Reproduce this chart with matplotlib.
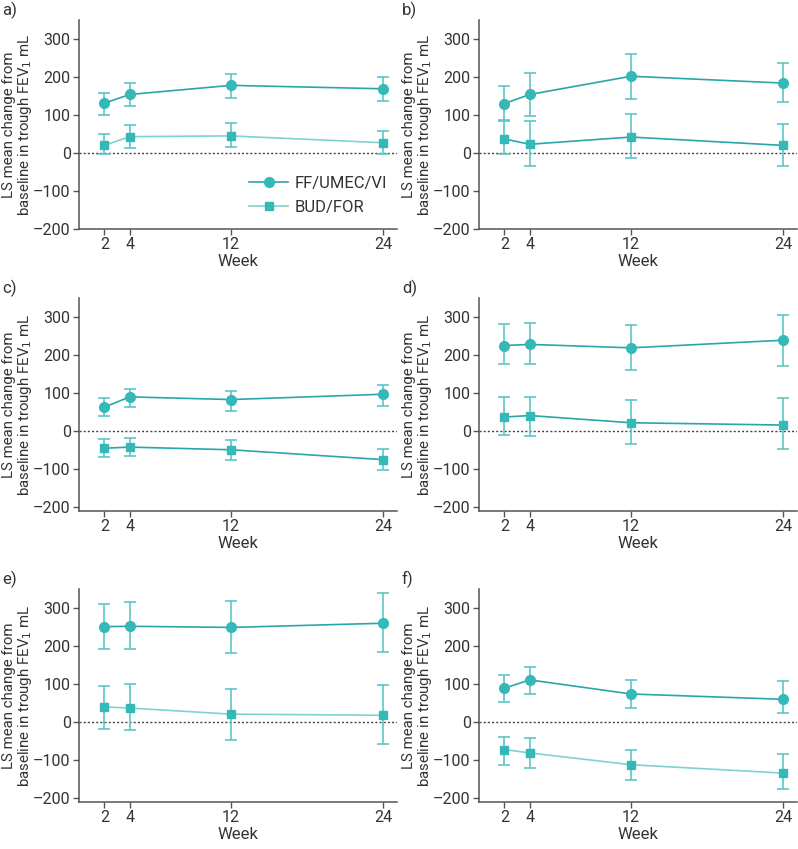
import matplotlib
matplotlib.use("Agg")
import matplotlib.pyplot as plt
import numpy as np

plt.rcParams['font.family'] = ['Roboto', 'DejaVu Sans']

weeks = [2, 4, 12, 24]
week_labels = ["2", "4", "12", "24"]
panel_labels = ["a)", "b)", "c)", "d)", "e)", "f)"]
series_names = ["FF/UMEC/VI", "BUD/FOR"]

# FF/UMEC/VI: mean, upper CI, lower CI per panel
ff_mean = [[131, 154, 178, 169], [130, 154, 202, 184], [63, 90, 83, 97],
           [225, 228, 219, 239], [251, 252, 249, 260], [89, 111, 74, 60]]
ff_hi = [[157, 184, 207, 199], [175, 210, 260, 237], [86, 112, 105, 120],
         [281, 285, 279, 305], [310, 316, 319, 340], [125, 146, 112, 108]]
ff_lo = [[101, 123, 145, 137], [88, 97, 142, 134], [41, 64, 53, 67],
         [177, 177, 161, 172], [192, 192, 183, 185], [54, 75, 38, 24]]

# BUD/FOR: mean, upper CI, lower CI per panel
bud_mean = [[20, 43, 45, 27], [37, 23, 42, 20], [-45, -42, -49, -75],
            [37, 41, 22, 16], [40, 37, 21, 18], [-72, -81, -112, -134]]
bud_hi = [[49, 73, 78, 57], [85, 83, 102, 75], [-20, -18, -23, -48],
          [90, 90, 83, 86], [94, 99, 88, 98], [-40, -42, -73, -84]]
bud_lo = [[-3, 12, 16, -3], [-3, -33, -14, -33], [-68, -66, -75, -101],
          [-11, -12, -35, -47], [-17, -22, -46, -58], [-113, -121, -153, -175]]

yticks = [-200, -100, 0, 100, 200, 300]
ytick_labels = ["\u2013200", "\u2013100", "0", "100", "200", "300"]

W, H = 798, 849
fig = plt.figure(figsize=(W / 100, H / 100), dpi=100)

lefts = [79, 479]
rows = [(20, 229, -200), (298, 511, -210), (589, 802, -210)]
ax_w = 318

text_col = "#333333"
spine_col = "#555555"
marker_col = "#35b8b8"
ff_line = "#2aa6a8"
bud_line = "#7fd2d2"
err_col = "#5cc6c6"

for i in range(6):
    r, c = divmod(i, 2)
    top, bot, ymin = rows[r]
    ax = fig.add_axes([lefts[c] / W, 1 - bot / H, ax_w / W, (bot - top) / H])
    ax.set_xlim(0, 25.1)
    ax.set_ylim(ymin, 350)
    ax.axhline(0, color="#444444", lw=1.0, ls=(0, (1.5, 1.5)), zorder=1)

    m = np.array(ff_mean[i]); hi = np.array(ff_hi[i]); lo = np.array(ff_lo[i])
    ax.errorbar(weeks, m, yerr=[m - lo, hi - m], fmt='none', ecolor=err_col,
                elinewidth=1.2, capsize=4, capthick=1.2, zorder=2)
    ax.plot(weeks, m, color=ff_line, lw=1.2, marker='o', ms=7,
            mfc=marker_col, mec=marker_col, zorder=3, label=series_names[0])

    m = np.array(bud_mean[i]); hi = np.array(bud_hi[i]); lo = np.array(bud_lo[i])
    ax.errorbar(weeks, m, yerr=[m - lo, hi - m], fmt='none', ecolor=err_col,
                elinewidth=1.2, capsize=4, capthick=1.2, zorder=2)
    ax.plot(weeks, m, color=bud_line if i in (0, 4, 5) else ff_line, lw=1.2,
            marker='s', ms=5.5, mfc=marker_col, mec=marker_col, zorder=3,
            label=series_names[1])

    for s in ("top", "right"):
        ax.spines[s].set_visible(False)
    for s in ("left", "bottom"):
        ax.spines[s].set_color(spine_col)
        ax.spines[s].set_linewidth(1.1)

    ax.set_xticks(weeks)
    ax.set_xticklabels(week_labels)
    ax.set_yticks(yticks)
    ax.set_yticklabels(ytick_labels)
    ax.tick_params(axis='both', direction='out', length=4, width=1.0,
                   color=spine_col, labelsize=11.5, labelcolor=text_col, pad=2)
    ax.set_xlabel("Week", fontsize=12, color=text_col, labelpad=1)
    ax.set_ylabel("LS mean change from\nbaseline in trough FEV$_1$ mL",
                  fontsize=10.8, color=text_col, linespacing=1.05)
    ax.yaxis.set_label_coords(-0.14, 0.5)

    fig.text((lefts[c] - 77) / W, 1 - (top - 10) / H, panel_labels[i],
             fontsize=12, color=text_col, va='center', ha='left')

    if i == 0:
        ax.legend(loc='lower right', bbox_to_anchor=(1.0, 0.02), frameon=False,
                  fontsize=12, labelcolor=text_col, handlelength=2.3,
                  handletextpad=0.4, borderaxespad=0.2, labelspacing=0.55)

fig.savefig("out.png", dpi=100)
